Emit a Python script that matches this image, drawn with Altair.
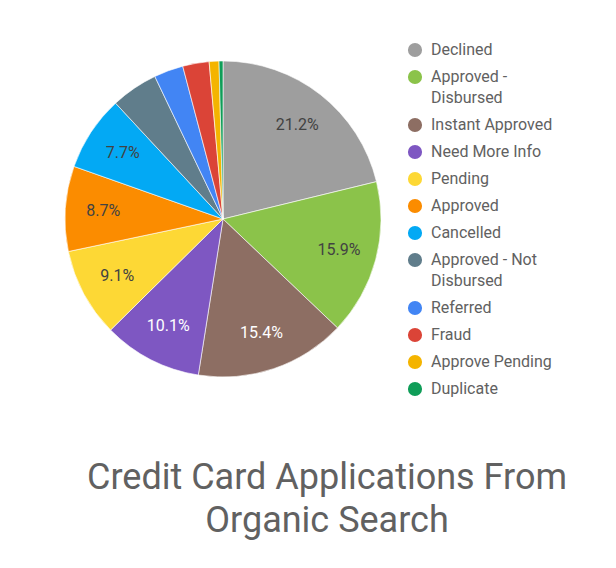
import altair as alt
import pandas as pd

categories = ["Declined", "Approved - Disbursed", "Instant Approved", "Need More Info",
              "Pending", "Approved", "Cancelled", "Approved - Not Disbursed",
              "Referred", "Fraud", "Approve Pending", "Duplicate"]
shares = [21.2, 15.9, 15.4, 10.1, 9.1, 8.7, 7.7, 4.8, 3.0, 2.7, 1.0, 0.4]
colors = ["#9E9E9E", "#8BC34A", "#8D6E63", "#7E57C2", "#FDD835", "#FB8C00",
          "#03A9F4", "#607D8B", "#4285F4", "#DB4437", "#F4B400", "#0F9D58"]
legend_lines = [["Declined"], ["Approved -", "Disbursed"], ["Instant Approved"],
                ["Need More Info"], ["Pending"], ["Approved"], ["Cancelled"],
                ["Approved - Not", "Disbursed"], ["Referred"], ["Fraud"],
                ["Approve Pending"], ["Duplicate"]]
title_lines = ["Credit Card Applications From", "Organic Search"]

pie_df = pd.DataFrame({
    "category": categories,
    "share": shares,
    "idx": list(range(len(categories))),
    "label": [f"{v}%" if v >= 5 else "" for v in shares],
})

# legend layout rows
rows = []
extra = 0
for i, (cat, lines) in enumerate(zip(categories, legend_lines)):
    for j, ln in enumerate(lines):
        rows.append({"category": cat, "text": ln, "first": j == 0,
                     "ypos": 42 + 27 * i + 21 * (extra + j)})
    extra += len(lines) - 1
leg_df = pd.DataFrame(rows)

color_scale = alt.Scale(domain=categories, range=colors)
CX, CY = 215, 211

base = alt.Chart(pie_df).encode(
    theta=alt.Theta("share:Q", stack=True),
    order=alt.Order("idx:Q"),
)
arcs = base.mark_arc(radius=158, stroke="white", strokeWidth=0.6).encode(
    color=alt.Color("category:N", scale=color_scale, legend=None),
    x=alt.value(CX), y=alt.value(CY),
)
labels = base.mark_text(radius=120, fontSize=16, font="Roboto").encode(
    text=alt.Text("label:N"),
    color=alt.condition(
        "datum.category == 'Need More Info' || datum.category == 'Instant Approved'",
        alt.value("#FFFFFF"), alt.value("#424242")),
    x=alt.value(CX), y=alt.value(CY),
)

yscale = alt.Scale(domain=[0, 552], range=[0, 552])
leg_base = alt.Chart(leg_df)
leg_sym = leg_base.transform_filter("datum.first").mark_point(
    filled=True, shape="circle", size=200, opacity=1).encode(
    x=alt.value(407),
    y=alt.Y("ypos:Q", scale=yscale, axis=None),
    color=alt.Color("category:N", scale=color_scale, legend=None),
)
leg_txt = leg_base.mark_text(align="left", baseline="middle", fontSize=16,
                             font="Roboto", color="#616161").encode(
    x=alt.value(423),
    y=alt.Y("ypos:Q", scale=yscale, axis=None),
    text="text:N",
)

title = alt.Chart(pd.DataFrame({"t": ["\n".join(title_lines)]})).mark_text(
    font="Roboto", fontSize=36, color="#616161", align="center",
    baseline="alphabetic", lineBreak="\n", lineHeight=43,
).encode(x=alt.value(319), y=alt.value(481), text="t:N")

chart = alt.layer(arcs, labels, leg_sym, leg_txt, title).properties(
    width=600, height=552, padding=0, autosize="none"
).configure_view(stroke=None)

chart.save("out.html", embed_options={"renderer": "svg", "actions": False})
